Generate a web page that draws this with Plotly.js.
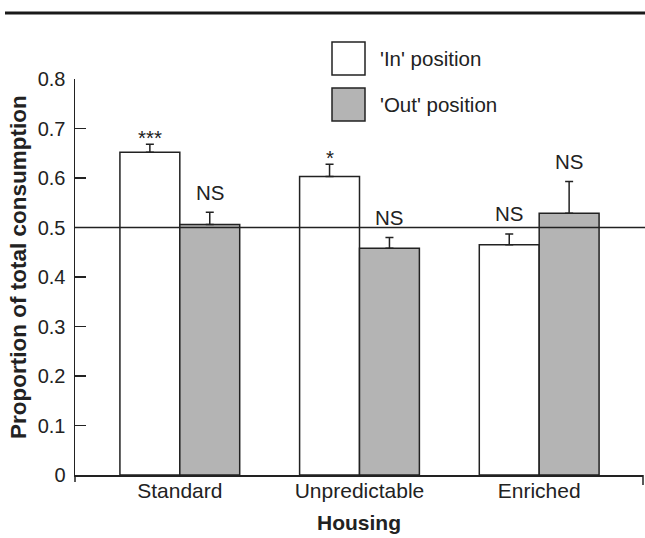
<!DOCTYPE html>
<html>
<head>
<meta charset="utf-8">
<script src="https://cdn.plot.ly/plotly-3.0.1.min.js"></script>
<style>html,body{margin:0;padding:0;background:#fff;}#chart{width:645px;height:538px;}</style>
</head>
<body>
<div id="chart"></div>
<script>
// Data
var categories = ['Standard', 'Unpredictable', 'Enriched'];
var inValues = [0.652, 0.603, 0.465];
var inErrors = [0.016, 0.025, 0.022];
var outValues = [0.506, 0.458, 0.529];
var outErrors = [0.025, 0.022, 0.064];
var inLabels = ['***', '*', 'NS'];
var outLabels = ['NS', 'NS', 'NS'];
var seriesNames = ["'In' position", "'Out' position"];
var yTicks = [0, 0.1, 0.2, 0.3, 0.4, 0.5, 0.6, 0.7, 0.8];
var referenceLevel = 0.5;
var xTitle = 'Housing';
var yTitle = 'Proportion of total consumption';

var FONT = 'Liberation Sans, Arial, Helvetica, sans-serif';
var INK = '#222222';
var GREY = '#b4b4b4';

var W = 645, H = 538;
var M = {l: 75, r: 2, t: 79, b: 63};
var PW = W - M.l - M.r, PH = H - M.t - M.b;
function px(x) { return (x - M.l) / PW; }
function py(y) { return (H - M.b - y) / PH; }

var traces = [
  {
    type: 'bar', name: seriesNames[0], x: categories, y: inValues,
    marker: {color: '#ffffff', line: {color: INK, width: 1.5}},
    error_y: {type: 'data', symmetric: false, array: inErrors,
              arrayminus: inValues.map(function(){return 0;}),
              color: INK, thickness: 1.5, width: 4},
    showlegend: false, hoverinfo: 'x+y'
  },
  {
    type: 'bar', name: seriesNames[1], x: categories, y: outValues,
    marker: {color: GREY, line: {color: INK, width: 1.5}},
    error_y: {type: 'data', symmetric: false, array: outErrors,
              arrayminus: outValues.map(function(){return 0;}),
              color: INK, thickness: 1.5, width: 4},
    showlegend: false, hoverinfo: 'x+y'
  }
];

var annotations = [];
function sigAnn(xIdx, val, err, label) {
  var star = label.indexOf('*') >= 0;
  return {
    x: xIdx, y: val + err, xref: 'x', yref: 'y',
    text: label, showarrow: false,
    xanchor: 'center', yanchor: 'middle',
    yshift: star ? 7 : 20,
    font: {family: FONT, size: 20.5, color: INK}
  };
}
for (var i = 0; i < categories.length; i++) {
  annotations.push(sigAnn(i - 1/6, inValues[i], inErrors[i], inLabels[i]));
  annotations.push(sigAnn(i + 1/6, outValues[i], outErrors[i], outLabels[i]));
}
// legend texts
annotations.push({x: px(378), y: py(58), xref: 'paper', yref: 'paper', text: seriesNames[0],
  showarrow: false, xanchor: 'left', yanchor: 'middle', font: {family: FONT, size: 20.5, color: INK}});
annotations.push({x: px(378), y: py(104), xref: 'paper', yref: 'paper', text: seriesNames[1],
  showarrow: false, xanchor: 'left', yanchor: 'middle', font: {family: FONT, size: 20.5, color: INK}});
// y axis title
annotations.push({x: px(18), y: py(267), xref: 'paper', yref: 'paper', text: '<b>' + yTitle + '</b>',
  textangle: -90, showarrow: false, xanchor: 'center', yanchor: 'middle',
  font: {family: FONT, size: 22.5, color: INK}});

var shapes = [
  // reference line at 0.5
  {type: 'line', xref: 'paper', yref: 'y', x0: 0, x1: px(645), y0: referenceLevel, y1: referenceLevel,
   line: {color: INK, width: 1.5}},
  // top rule
  {type: 'line', xref: 'paper', yref: 'paper', x0: px(5), x1: px(645), y0: py(13), y1: py(13),
   line: {color: '#1a1a1a', width: 3}},
  // y axis extension below zero
  {type: 'line', xref: 'paper', yref: 'paper', x0: 0, x1: 0, y0: 0, y1: py(482),
   line: {color: INK, width: 1.5}},
  // right end tick of x axis
  {type: 'line', xref: 'paper', yref: 'paper', x0: px(643), x1: px(643), y0: 0, y1: py(485),
   line: {color: INK, width: 1.5}},
  // legend boxes
  {type: 'rect', xref: 'paper', yref: 'paper', x0: px(332), x1: px(365), y0: py(75), y1: py(42),
   fillcolor: '#ffffff', line: {color: INK, width: 1.5}},
  {type: 'rect', xref: 'paper', yref: 'paper', x0: px(332), x1: px(365), y0: py(121), y1: py(88),
   fillcolor: GREY, line: {color: INK, width: 1.5}}
];

var layout = {
  width: W, height: H,
  margin: M,
  paper_bgcolor: '#ffffff', plot_bgcolor: '#ffffff',
  barmode: 'group', bargap: 1/3, bargroupgap: 0,
  showlegend: false,
  font: {family: FONT, color: INK},
  xaxis: {
    type: 'category',
    range: [-(180 - 75) / 180, 2 + (643 - 539) / 180],
    showline: true, linecolor: INK, linewidth: 1.5,
    ticks: '', showgrid: false, zeroline: false,
    ticklabelstandoff: -4,
    tickfont: {family: FONT, size: 21, color: INK},
    title: {text: '<b>' + xTitle + '</b>', font: {family: FONT, size: 21, color: INK}, standoff: 14},
    fixedrange: true
  },
  yaxis: {
    range: [0, 0.8],
    tickvals: yTicks, ticktext: yTicks.map(function(v){return v === 0 ? '0' : v.toFixed(1);}),
    ticks: 'inside', ticklen: 11, tickwidth: 1.2, tickcolor: INK,
    showline: true, linecolor: INK, linewidth: 1.5,
    showgrid: false, zeroline: false,
    ticklabelstandoff: 4,
    tickfont: {family: FONT, size: 20, color: INK},
    fixedrange: true
  },
  shapes: shapes,
  annotations: annotations
};

Plotly.newPlot('chart', traces, layout, {displayModeBar: false, staticPlot: true});
</script>
</body>
</html>
